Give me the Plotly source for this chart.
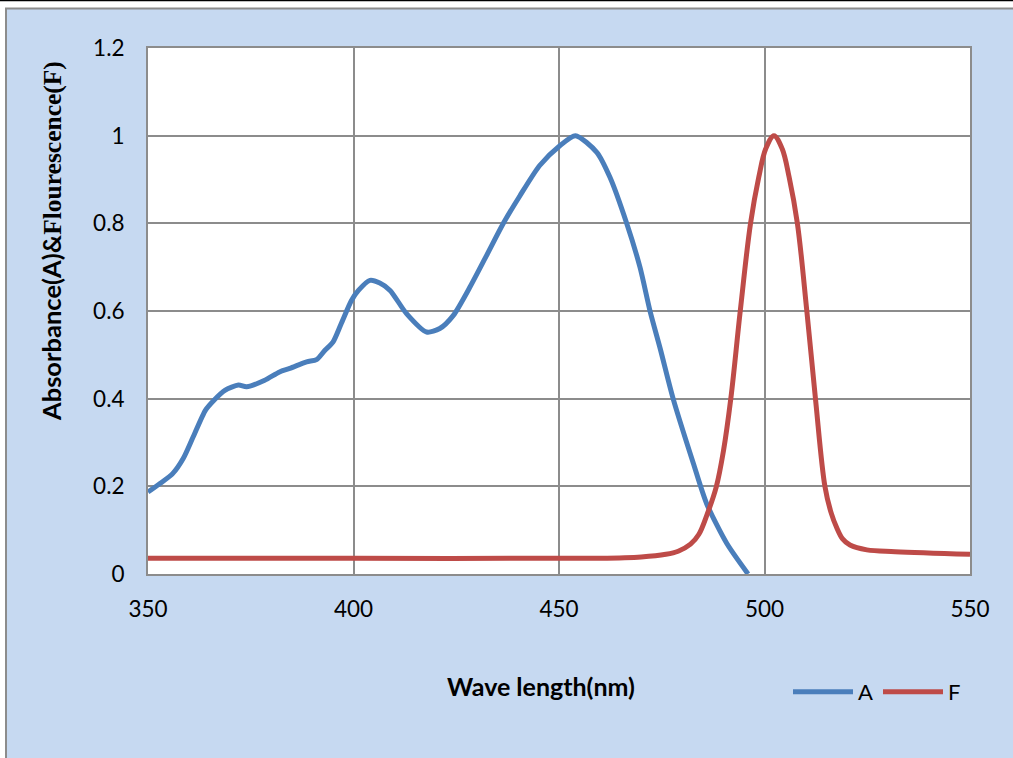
import plotly.graph_objects as go

# Absorbance (A)
wl_a = [350, 353, 356, 358.6, 361, 364, 366, 368.7, 372, 374, 378.4, 382, 384.5, 388.6, 391,
        393, 395, 397, 399.5, 401.2, 404, 406.4, 408.9, 412.9, 417.8, 421, 424.3, 428.3, 432.4,
        436.4, 440.5, 445.3, 450.2, 454, 459.2, 462.4, 466.5, 469.7, 472.2, 474.6, 477.8, 482.7,
        485.9, 490.8, 496]
val_a = [0.187, 0.207, 0.229, 0.264, 0.313, 0.374, 0.396, 0.419, 0.431, 0.427, 0.442, 0.461, 0.469,
         0.484, 0.489, 0.510, 0.529, 0.571, 0.624, 0.647, 0.670, 0.664, 0.647, 0.594, 0.552, 0.560,
         0.590, 0.654, 0.727, 0.799, 0.863, 0.932, 0.977, 1.0, 0.962, 0.905, 0.799, 0.700, 0.598,
         0.515, 0.399, 0.252, 0.161, 0.070, 0.0]

# Fluorescence (F)
wl_f = [350, 400, 460, 470, 476, 479, 482, 484, 486, 488.3, 490, 491.8, 494.1, 496.6, 498.6, 500.3,
        502.3, 504.3, 506.0, 508.0, 510.3, 512.4, 514.7, 516.2, 517.6, 519, 520.8, 524.9, 531.8, 550]
val_f = [0.036, 0.036, 0.036, 0.039, 0.045, 0.052, 0.068, 0.09, 0.135, 0.20, 0.28, 0.40, 0.60, 0.80,
         0.905, 0.97, 1.0, 0.97, 0.905, 0.80, 0.60, 0.40, 0.20, 0.14, 0.105, 0.08, 0.066, 0.055,
         0.051, 0.045]

x_ticks = [350, 400, 450, 500, 550]
y_ticks = [0, 0.2, 0.4, 0.6, 0.8, 1, 1.2]
y_labels = ["0", "0.2", "0.4", "0.6", "0.8", "1", "1.2"]

BLUE = "#4A7EBB"
RED = "#BE4B48"
BG = "#C6D9F1"
GRID = "#8C8C8C"
FONT = "Lato"

fig = go.Figure()
fig.add_trace(go.Scatter(x=wl_a, y=val_a, name="A", mode="lines",
                         line=dict(color=BLUE, width=5, shape="spline", smoothing=0.7)))
fig.add_trace(go.Scatter(x=wl_f, y=val_f, name="F", mode="lines",
                         line=dict(color=RED, width=5, shape="spline", smoothing=1.0)))

W, H = 1013, 758
L, R, T, B = 148, 970, 48, 574
pw, ph = R - L, B - T

def px(xp):
    return (xp - L) / pw

def py(yp):
    return (B - yp) / ph

shapes = [
    dict(type="rect", xref="paper", yref="paper", x0=px(-5), x1=px(W + 5), y0=py(8), y1=py(-5),
         fillcolor="white", line=dict(width=0)),
    dict(type="rect", xref="paper", yref="paper", x0=px(-5), x1=px(5), y0=py(H + 5), y1=py(-5),
         fillcolor="white", line=dict(width=0)),
    dict(type="line", xref="paper", yref="paper", x0=px(0), x1=px(W + 5), y0=py(0.5), y1=py(0.5),
         line=dict(color="black", width=1.5)),
    dict(type="line", xref="paper", yref="paper", x0=px(5), x1=px(W + 5), y0=py(8.5), y1=py(8.5),
         line=dict(color=GRID, width=2)),
    dict(type="line", xref="paper", yref="paper", x0=px(6), x1=px(6), y0=py(8), y1=py(H + 5),
         line=dict(color=GRID, width=2)),
]

annotations = [
    dict(text="<b>Wave length(nm)</b>", xref="paper", yref="paper", x=px(541), y=py(686),
         showarrow=False, font=dict(family=FONT, size=25, color="black"),
         xanchor="center", yanchor="middle"),
    dict(text="<b>Absorbance(A)&amp;<span style='font-family:Liberation Serif'>Flourescence(F)</span></b>",
         xref="paper", yref="paper", x=px(52), y=py(241), textangle=-90,
         showarrow=False, font=dict(family=FONT, size=25.5, color="black"),
         xanchor="center", yanchor="middle"),
]

fig.update_layout(
    width=W, height=H,
    margin=dict(l=L, r=W - R, t=T, b=H - B, pad=0),
    paper_bgcolor=BG, plot_bgcolor="white",
    showlegend=True,
    legend=dict(orientation="h", x=px(788), y=py(692), xanchor="left", yanchor="middle",
                font=dict(family=FONT, size=22, color="black"), bgcolor="rgba(0,0,0,0)",
                itemwidth=60, tracegroupgap=0),
    shapes=shapes,
    annotations=annotations,
    font=dict(family=FONT, size=22, color="black"),
)
fig.update_xaxes(range=[350, 550], tickvals=x_ticks, ticktext=[str(v) for v in x_ticks],
                 showgrid=True, gridcolor=GRID, gridwidth=2, zeroline=False,
                 showline=True, linecolor=GRID, linewidth=2, mirror=True,
                 ticks="", ticklabelstandoff=14, tickfont=dict(family=FONT, size=22.5))
fig.update_yaxes(range=[0, 1.2], tickvals=y_ticks, ticktext=y_labels,
                 showgrid=True, gridcolor=GRID, gridwidth=2, zeroline=False,
                 showline=True, linecolor=GRID, linewidth=2, mirror=True,
                 ticks="", ticklabelstandoff=17, tickfont=dict(family=FONT, size=22.5))

fig.write_html("out.html")
